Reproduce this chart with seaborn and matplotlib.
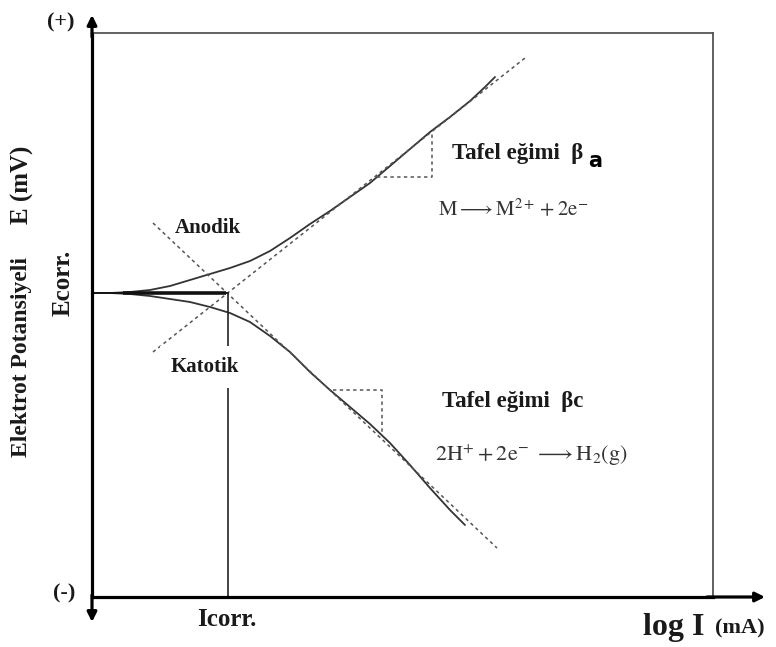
import matplotlib
matplotlib.use("Agg")
import matplotlib.pyplot as plt
import seaborn as sns
import pandas as pd

sns.set_style("white")
plt.rcParams['font.family'] = ['Liberation Serif', 'DejaVu Sans']
plt.rcParams['mathtext.fontset'] = 'stix'

# ---- data (schematic units: x = log I, y = E) ----
x_max, y_max = 621, 564
e_corr = 304
i_corr = 136

anodic_logI = [0, 18, 38, 58, 78, 98, 118, 138, 158, 178, 198, 218, 238, 258,
               278, 298, 318, 338, 358, 378, 393, 403]
anodic_E = [304, 304, 305, 307, 311, 317, 323, 329, 336, 346, 359, 373, 386, 400,
            414, 431, 448, 465, 480, 496, 510, 520]

cathodic_logI = [0, 18, 38, 58, 78, 98, 118, 138, 158, 178, 198, 218, 238, 258,
                 278, 298, 318, 338, 358, 373]
cathodic_E = [304, 304, 303, 301, 298, 295, 290, 284, 275, 261, 245, 225, 207, 190,
              173, 154, 132, 109, 87, 72]

anodic_tafel_logI = [61, 433]
anodic_tafel_E = [245, 539]
cathodic_tafel_logI = [61, 405]
cathodic_tafel_E = [374, 49]

anodic_tri_logI = [285, 340, 340]
anodic_tri_E = [420, 420, 465]
cathodic_tri_logI = [241, 290, 290]
cathodic_tri_E = [207, 207, 164]

curves = pd.DataFrame({
    "logI": anodic_logI + cathodic_logI,
    "E": anodic_E + cathodic_E,
    "branch": ["Anodik"] * len(anodic_logI) + ["Katotik"] * len(cathodic_logI),
})

fig = plt.figure(figsize=(7.76, 6.47), dpi=100)
ax = fig.add_axes([92 / 776, 50 / 647, 621 / 776, 564 / 647])

# measured polarisation curves
sns.lineplot(data=curves, x="logI", y="E", units="branch", estimator=None,
             sort=False, color="#333333", lw=1.3, ax=ax)

dot = dict(color="#555555", lw=1.1, linestyle=(0, (2.2, 2.2)))
for xs, ys in [(anodic_tafel_logI, anodic_tafel_E),
               (cathodic_tafel_logI, cathodic_tafel_E),
               (anodic_tri_logI, anodic_tri_E),
               (cathodic_tri_logI, cathodic_tri_E)]:
    sns.lineplot(x=xs, y=ys, sort=False, estimator=None, ax=ax, **dot)

# Ecorr / Icorr lines
ax.plot([0, i_corr], [e_corr, e_corr], color="#111111", lw=1.2)
ax.plot([31, i_corr - 2], [e_corr, e_corr], color="#111111", lw=2.6,
        solid_capstyle="butt")
ax.plot([i_corr, i_corr], [e_corr, 0], color="#222222", lw=1.2)

ax.set_xlim(0, x_max)
ax.set_ylim(0, y_max)
ax.set_xticks([])
ax.set_yticks([])
ax.set_xlabel("")
ax.set_ylabel("")
for s in ["left", "bottom"]:
    ax.spines[s].set_linewidth(2.3)
    ax.spines[s].set_color("black")
for s in ["top", "right"]:
    ax.spines[s].set_linewidth(1.3)
    ax.spines[s].set_color("#555555")

arr = dict(arrowstyle="-|>", color="black", lw=2.3, mutation_scale=14,
           shrinkA=0, shrinkB=0)
ax.annotate("", xy=(0, 582), xytext=(0, 560), arrowprops=arr, annotation_clip=False)
ax.annotate("", xy=(0, -25), xytext=(0, 2), arrowprops=arr, annotation_clip=False)
ax.annotate("", xy=(673, 0), xytext=(615, 0), arrowprops=arr, annotation_clip=False)

kw = dict(fontweight="bold", color="#1a1a1a", clip_on=False)
ax.text(-31, 575, "(+)", fontsize=16, ha="center", va="center", **kw)
ax.text(-28, 4, "(-)", fontsize=16, ha="center", va="center", **kw)
ax.text(-70, 240, "Elektrot Potansiyeli", fontsize=17, rotation=90,
        ha="center", va="center", **kw)
ax.text(-70, 412, "E (mV)", fontsize=18, rotation=90,
        ha="center", va="center", **kw)
ax.text(-29, 314, "Ecorr.", fontsize=18, rotation=90, ha="center", va="center", **kw)
ax.text(116, 369, "Anodik", fontsize=15, ha="center", va="center", **kw)
ax.text(113, 230, "Katotik", fontsize=15, ha="center", va="center",
        bbox=dict(fc="white", ec="none", pad=8), **kw)
ax.text(360, 444, "Tafel eğimi  β", fontsize=16.5, ha="left", va="center", **kw)
ax.text(496, 436, "a", fontsize=15, ha="left", va="center", family="DejaVu Sans",
        fontweight="bold", color="black")
ax.text(346, 387, r"$\mathrm{M} \longrightarrow \mathrm{M}^{2+} + 2\mathrm{e}^{-}$",
        fontsize=15, ha="left", va="center", color="#333333")
ax.text(350, 195, "Tafel eğimi  βc", fontsize=16.5, ha="left", va="center", **kw)
ax.text(343, 142, r"$2\mathrm{H}^{+} + 2\mathrm{e}^{-}\ \longrightarrow \mathrm{H}_{2}(\mathrm{g})$",
        fontsize=16, ha="left", va="center", color="#333333")
ax.text(135, -23, "Icorr.", fontsize=18, ha="center", va="center", **kw)
ax.text(551, -31, "log I", fontsize=23, ha="left", va="center", **kw)
ax.text(623, -31, "(mA)", fontsize=16, ha="left", va="center", **kw)

fig.savefig("out.png", dpi=100)
